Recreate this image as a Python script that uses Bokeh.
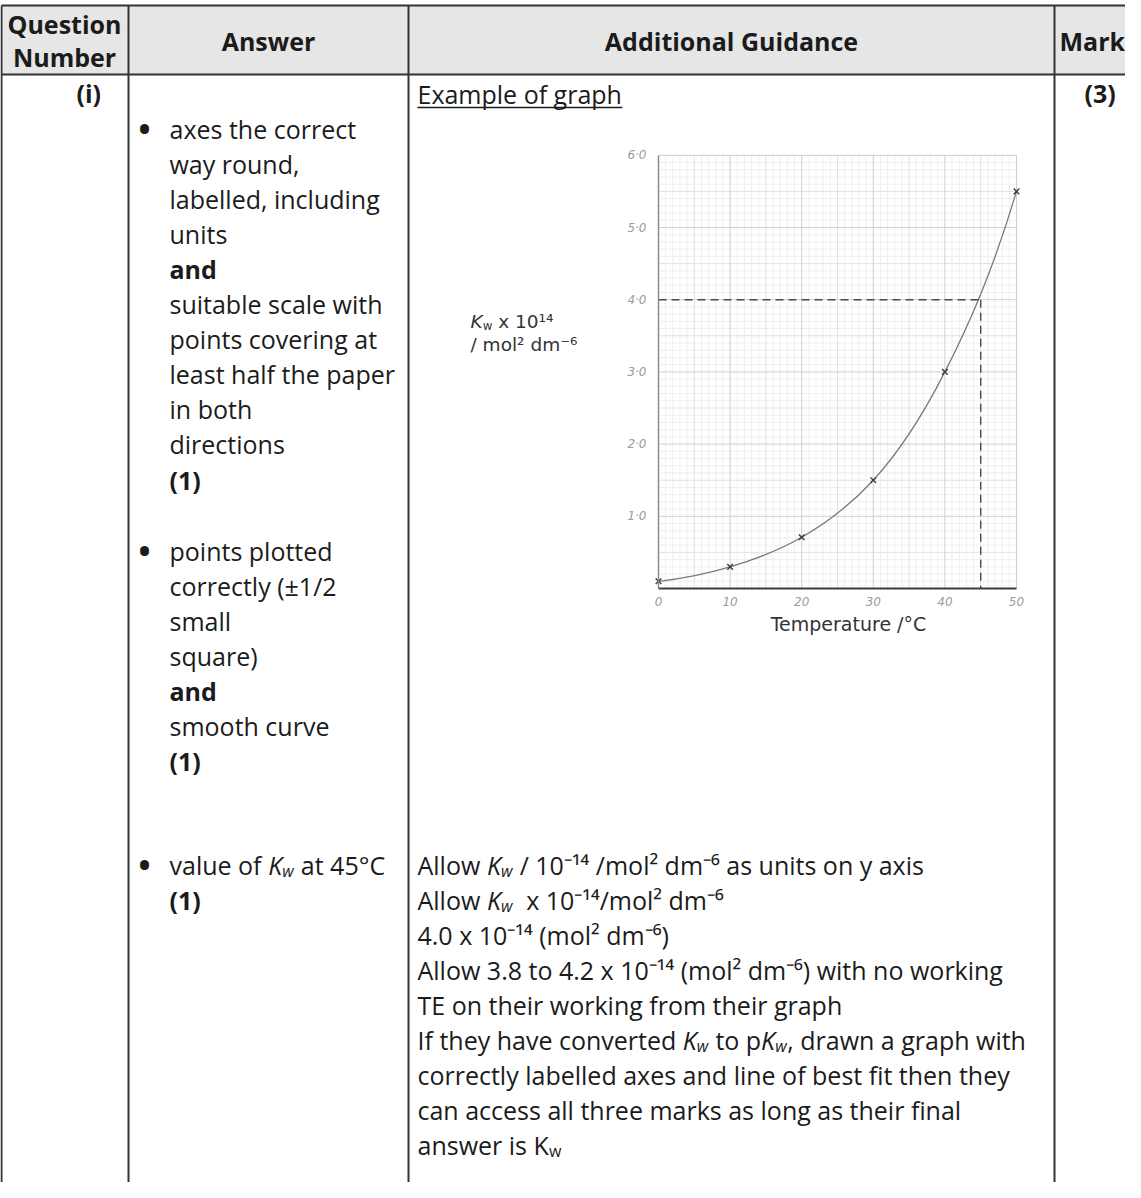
import numpy as np
from bokeh.plotting import figure
from bokeh.models import Range1d, LinearAxis, FixedTicker
from bokeh.core.properties import value
from bokeh.embed import file_html
from bokeh.resources import INLINE

# ---------------- data ----------------
temperature_c = [0, 10, 20, 30, 40, 50]
kw_times_1e14 = [0.10, 0.30, 0.71, 1.50, 3.00, 5.50]
read_temperature_c = 45
read_kw_times_1e14 = 4.0
x_ticks = [0, 10, 20, 30, 40, 50]
x_tick_labels = ["0", "10", "20", "30", "40", "50"]
y_ticks = [1, 2, 3, 4, 5, 6]
y_tick_labels = ["1·0", "2·0", "3·0", "4·0", "5·0", "6·0"]

# ---------------- table text ----------------
header_labels = ["Answer", "Additional Guidance", "Mark"]
answer_block_1 = [("axes the correct", "normal"), ("way round,", "normal"),
                  ("labelled, including", "normal"), ("units", "normal"),
                  ("and", "bold"), ("suitable scale with", "normal"),
                  ("points covering at", "normal"), ("least half the paper", "normal"),
                  ("in both", "normal"), ("directions", "normal"), ("(1)", "bold")]
answer_block_2 = [("points plotted", "normal"), ("correctly (±1/2", "normal"),
                  ("small", "normal"), ("square)", "normal"), ("and", "bold"),
                  ("smooth curve", "normal"), ("(1)", "bold")]
answer_block_3 = [("value of ", "t"), ("", "kw"), (" at 45°C", "t")]
guidance_lines = [
    [("Allow ", "t"), ("", "kw"), (" / 10⁻¹⁴ /mol² dm⁻⁶ as units on y axis", "t")],
    [("Allow ", "t"), ("", "kw"), ("  x 10⁻¹⁴/mol² dm⁻⁶", "t")],
    [("4.0 x 10⁻¹⁴ (mol² dm⁻⁶)", "t")],
    [("Allow 3.8 to 4.2 x 10⁻¹⁴ (mol² dm⁻⁶) with no working", "t")],
    [("TE on their working from their graph", "t")],
    [("If they have converted ", "t"), ("", "kw"), (" to p", "t"), ("", "kw"),
     (", drawn a graph with", "t")],
    [("correctly labelled axes and line of best fit then they", "t")],
    [("can access all three marks as long as their final", "t")],
    [("answer is ", "t"), ("", "kw_upright")],
]

INK = "#1b1b1b"
FONT = "Open Sans"
GFONT = "DejaVu Sans"
FS = 25

# Open Sans regular advance widths (units per 2048 em) for run placement
OPEN_W = {' ': 532, 'a': 1139, 'b': 1255, 'c': 975, 'd': 1255, 'e': 1149, 'f': 694,
          'g': 1122, 'h': 1257, 'i': 518, 'j': 518, 'k': 1075, 'l': 518, 'm': 1905,
          'n': 1257, 'o': 1237, 'p': 1255, 'q': 1255, 'r': 836, 's': 977, 't': 723,
          'u': 1257, 'v': 1026, 'w': 1593, 'x': 1073, 'y': 1028, 'z': 977, 'A': 1296,
          'I': 571, 'T': 1114, 'E': 1139, 'K': 1257, ',': 502, '.': 545, '/': 752,
          '(': 606, ')': 606}
DEJAVU_SPACE = 651


def ow(s, size):
    return sum(OPEN_W.get(ch, 1150) for ch in s) / 2048.0 * size


W, H, M = 1125, 1182, 8
p = figure(width=W, height=H, x_range=Range1d(M, M + W), y_range=Range1d(M + H, M),
           x_axis_type=None, y_axis_type=None, toolbar_location=None,
           output_backend="svg", min_border=0, title=None)
p.outline_line_color = None
p.background_fill_color = "white"
p.border_fill_color = "white"


def txt(x, y, s, size=FS, font=FONT, style="normal", color=INK, align="left",
        baseline="middle"):
    p.text(x=[x], y=[y], text=[s], text_font=value(font), text_font_size=f"{size}px",
           text_font_style=style, text_color=color, text_align=align,
           text_baseline=baseline)


def put_kw(x, y, size, font, k_style="italic", w_style="italic", k_units=1150,
           w_units=1550, color=INK):
    txt(x, y, "K", size, font, k_style, color)
    kx = x + k_units / 2048.0 * size
    sub = round(size * 0.64, 1)
    txt(kx, y + size * 0.24, "w", sub, font, w_style, color)
    return kx + w_units / 2048.0 * sub


def put_runs(x, y, runs):
    for s, kind in runs:
        if kind == "t":
            core = s.strip(" ")
            lead = len(s) - len(s.lstrip(" "))
            trail = len(s) - len(s.rstrip(" "))
            x += ow(" " * lead, FS)
            txt(x, y, core)
            x += ow(core, FS) + ow(" " * trail, FS)
        elif kind == "kw":
            x = put_kw(x, y, FS, FONT)
        else:
            x = put_kw(x, y, FS, FONT, k_style="normal", w_style="normal",
                       k_units=1257, w_units=1593)
    return x


# ---------------- table frame ----------------
TL, TT, HB = 9, 13, 82
COLS = [136, 416, 1062]
RIGHT, BOTTOM = 1150, 1200
p.quad(left=[TL], right=[RIGHT], top=[TT], bottom=[HB], fill_color="#e6e6e6",
       line_color=None)
p.segment(x0=[TL, TL], y0=[TT, HB], x1=[RIGHT, RIGHT], y1=[TT, HB],
          line_color="#333333", line_width=2)
vx = [TL] + COLS
p.segment(x0=vx, y0=[TT] * 4, x1=vx, y1=[BOTTOM] * 4, line_color="#333333",
          line_width=2)

# header
txt(72, 31, "Question", style="bold", align="center")
txt(72, 64, "Number", style="bold", align="center")
txt((COLS[0] + COLS[1]) / 2, 48, header_labels[0], style="bold", align="center")
txt((COLS[1] + COLS[2]) / 2, 48, header_labels[1], style="bold", align="center")
txt(1067, 48, header_labels[2], style="bold")

# first row labels
txt(84, 100, "(i)", style="bold")
txt(1092, 100, "(3)", style="bold")

# answer column
AX, BX = 177, 152
PITCH = 35.1
for i, (s, st) in enumerate(answer_block_1):
    txt(AX, 136 + i * PITCH, s, style=st)
for i, (s, st) in enumerate(answer_block_2):
    txt(AX, 558 + i * PITCH, s, style=st)
Y3 = 872
put_runs(AX, Y3, answer_block_3)
txt(AX, Y3 + 35, "(1)", style="bold")
for by in [136, 558, Y3]:
    txt(BX, by, "•", size=32, style="bold", align="center")

# guidance column
GX = 425
txt(GX, 101, "Example of graph")
p.segment(x0=[GX], y0=[115], x1=[GX + ow("Example of graph", FS)], y1=[115],
          line_color=INK, line_width=1.4)
for i, runs in enumerate(guidance_lines):
    put_runs(GX, Y3 + i * 35, runs)

# ---------------- embedded graph ----------------
X0, XS = 666, 7.16     # pixel of 0 degC, pixels per degC
Y0, YS = 596, 72.2     # pixel of Kw = 0, pixels per unit
p.extra_x_ranges = {"gx": Range1d((M - X0) / XS, (M + W - X0) / XS)}
p.extra_y_ranges = {"gy": Range1d((Y0 - (M + H)) / YS, (Y0 - M) / YS)}
G = dict(x_range_name="gx", y_range_name="gy")

xmax, ymax = x_ticks[-1], y_ticks[-1]
gxv = np.arange(0, xmax + 0.001, 1.0)
gyv = np.round(np.arange(0, ymax + 0.0001, 0.1), 2)
g10 = np.round(gyv * 10)
for sel_x, sel_y, col in [
    (gxv % 5 != 0, g10 % 5 != 0, "#efefef"),
    ((gxv % 5 == 0) & (gxv % 10 != 0), (g10 % 5 == 0) & (g10 % 10 != 0), "#e1e1e1"),
    (gxv % 10 == 0, g10 % 10 == 0, "#cfcfcf"),
]:
    xs = gxv[sel_x]
    ys = gyv[sel_y]
    p.segment(x0=xs, y0=np.zeros_like(xs), x1=xs, y1=np.full_like(xs, ymax),
              line_color=col, line_width=1, **G)
    p.segment(x0=np.zeros_like(ys), y0=ys, x1=np.full_like(ys, xmax), y1=ys,
              line_color=col, line_width=1, **G)

# smooth curve: cubic Hermite through the points, tangents from log-slope
tx = np.array(temperature_c, float)
ky = np.array(kw_times_1e14, float)
slope = ky * np.gradient(np.log(ky), tx)
h = np.diff(tx)
p.bezier(x0=tx[:-1], y0=ky[:-1], x1=tx[1:], y1=ky[1:],
         cx0=tx[:-1] + h / 3, cy0=ky[:-1] + slope[:-1] * h / 3,
         cx1=tx[1:] - h / 3, cy1=ky[1:] - slope[1:] * h / 3,
         line_color="#7a7a7a", line_width=1.3, **G)

# reading lines at 45 degC
p.segment(x0=[0, read_temperature_c], y0=[read_kw_times_1e14, read_kw_times_1e14],
          x1=[read_temperature_c, read_temperature_c], y1=[read_kw_times_1e14, 0],
          line_color="#4a4a4a", line_width=1.4, line_dash="8 5", **G)

p.scatter(tx, ky, marker="x", size=8, line_color="#3a3a3a", line_width=1.4, **G)

xaxis = LinearAxis(fixed_location=0, bounds=(0, xmax), ticker=FixedTicker(ticks=x_ticks),
                   major_label_overrides={t: l for t, l in zip(x_ticks, x_tick_labels)},
                   **G)
yaxis = LinearAxis(fixed_location=0, bounds=(0, ymax), ticker=FixedTicker(ticks=y_ticks),
                   major_label_overrides={t: l for t, l in zip(y_ticks, y_tick_labels)},
                   **G)
for ax, lc, lw, so in [(xaxis, "#3c3c3c", 2, 2), (yaxis, "#8c8c8c", 1.5, 6)]:
    ax.axis_line_color = lc
    ax.axis_line_width = lw
    ax.major_tick_line_color = None
    ax.minor_tick_line_color = None
    ax.major_label_text_font = GFONT
    ax.major_label_text_font_style = "italic"
    ax.major_label_text_font_size = "12px"
    ax.major_label_text_color = "#9c9c9c"
    ax.major_label_standoff = so
p.add_layout(xaxis, "below")
p.add_layout(yaxis, "left")

# graph axis titles
GINK = "#333333"
GL = 18.5
txt(856, 631, "Temperature /°C", size=19, font=GFONT, color=GINK, align="center")
nx = put_kw(478, 329, GL, GFONT, k_style="italic", w_style="normal", k_units=1343,
            w_units=1675, color=GINK)
txt(nx + DEJAVU_SPACE / 2048.0 * GL, 329, "x 10¹⁴", size=GL, font=GFONT, color=GINK)
txt(478, 352, "/ mol² dm⁻⁶", size=GL, font=GFONT, color=GINK)

open("out.html", "w").write(file_html(p, INLINE))
